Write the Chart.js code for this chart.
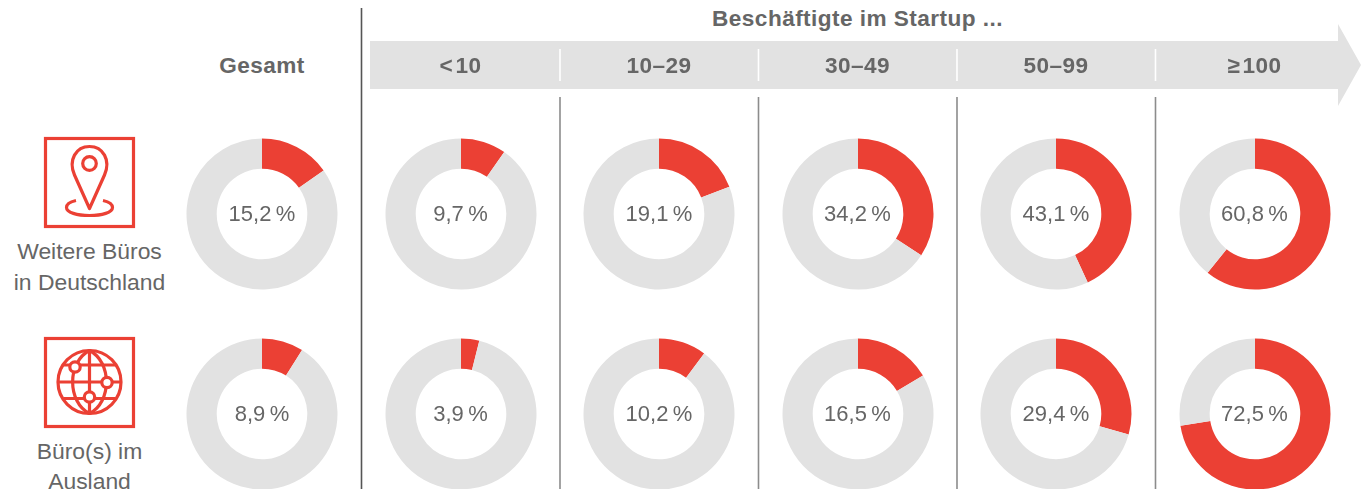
<!DOCTYPE html>
<html lang="de"><head><meta charset="utf-8">
<script src="https://cdn.jsdelivr.net/npm/chart.js@4/dist/chart.umd.min.js"></script>
<style>
html,body{margin:0;padding:0;background:#fff;overflow:hidden}
#stage{position:relative;width:1361px;height:489px;font-family:"Liberation Sans",Arial,sans-serif;color:#666}
.t{position:absolute;white-space:nowrap;transform:translate(-50%,-50%);line-height:1}
.v{font-size:22px}
.r{font-size:22.9px}
.h{font-size:22.6px;font-weight:bold;letter-spacing:.45px}
canvas{display:block}
.c{position:absolute;width:156px;height:156px}
svg{position:absolute;left:0;top:0}
</style></head><body><div id="stage">
<svg width="1361" height="489" viewBox="0 0 1361 489" fill="none">
<polygon points="370,41 1338,41 1338,24 1361,65 1338,106 1338,89 370,89" fill="#e2e2e2"/>
<path d="M361.500 8V489" stroke="#555" stroke-width="1.6"/>
<g stroke="#fff" stroke-width="1.6"><path d="M560 49V81M758.500 49V81M957 49V81M1155.500 49V81"/></g>
<g stroke="#8c8c8c" stroke-width="1.6"><path d="M560 97V489M758.500 97V489M957 97V489M1155.500 97V489"/></g>
<g stroke="#eb4034" stroke-width="3.200">
<rect x="45.500" y="138.500" width="88" height="88"/>
<rect x="45.500" y="338.500" width="88" height="88"/>
<path d="M89.500 208.500 L74.500 175 C68 160 76 146.500 89.500 146.500 C103 146.500 111 160 104.500 175 Z" stroke-linejoin="round"/>
<circle cx="89.500" cy="163.500" r="6.800"/>
<path d="M76 200.500C69 202 66.500 205 66.500 207.500C66.500 212.500 77 215.500 89.500 215.500C102 215.500 112.500 212.500 112.500 207.500C112.500 205 110 202 103 200.500"/>
<circle cx="89.500" cy="382" r="31.500"/>
<path d="M89.500 350.500V413.500M58 382H121M63.500 365H115.500M63.500 398.500H115.500"/>
<path d="M89.500 350.500C67 362 67 402 89.500 413.500M89.500 350.500C112 362 112 402 89.500 413.500"/>
<circle cx="75" cy="367" r="5.200" fill="#fff"/><circle cx="107" cy="382.500" r="5.200" fill="#fff"/><circle cx="89.500" cy="397" r="5.200" fill="#fff"/>
</g>
</svg>
</div>
<script>
const groups = ["Gesamt", "<\u200a10", "10–29", "30–49", "50–99", "≥\u200a100"];
const row1Label = ["Weitere Büros", "in Deutschland"];
const row2Label = ["Büro(s) im", "Ausland"];
const headerTitle = "Beschäftigte im Startup ...";
const buerosDeutschland = [15.2, 9.7, 19.1, 34.2, 43.1, 60.8];
const buerosAusland = [8.9, 3.9, 10.2, 16.5, 29.4, 72.5];

const RED = "#eb4034", GREY = "#e2e2e2";
const centersX = [262, 460.5, 659, 857.5, 1056, 1254.5];
const centersY = [214, 414];
const stage = document.getElementById("stage");

function addText(s, x, y, cls) {
  const d = document.createElement("div");
  d.className = "t " + cls;
  d.textContent = s;
  d.style.left = x + "px";
  d.style.top = y + "px";
  stage.appendChild(d);
}
function fmt(v) { return v.toFixed(1).replace(".", ",") + "\u2009%"; }

function donut(value, cx, cy) {
  const wrap = document.createElement("div");
  wrap.className = "c";
  wrap.style.left = (cx - 78) + "px";
  wrap.style.top = (cy - 78) + "px";
  const cv = document.createElement("canvas");
  wrap.appendChild(cv);
  stage.appendChild(wrap);
  new Chart(cv, {
    type: "doughnut",
    data: { labels: ["Ja", "Nein"], datasets: [{ data: [value, 100 - value], backgroundColor: [RED, GREY], borderWidth: 0 }] },
    options: {
      responsive: true, maintainAspectRatio: false, animation: false,
      cutout: "60%", radius: 75.5,
      layout: { padding: 0 },
      plugins: { legend: { display: false }, tooltip: { enabled: false } }
    }
  });
  addText(fmt(value), cx, cy, "v");
}
buerosDeutschland.forEach((v, i) => donut(v, centersX[i], centersY[0]));
buerosAusland.forEach((v, i) => donut(v, centersX[i], centersY[1]));

addText(headerTitle, 857.5, 19, "h");
groups.forEach((g, i) => addText(g, centersX[i], 66, "h"));
addText(row1Label[0], 89.5, 250.5, "r");
addText(row1Label[1], 89.5, 281.5, "r");
addText(row2Label[0], 89.5, 450.5, "r");
addText(row2Label[1], 89.5, 480.5, "r");
</script></body></html>
